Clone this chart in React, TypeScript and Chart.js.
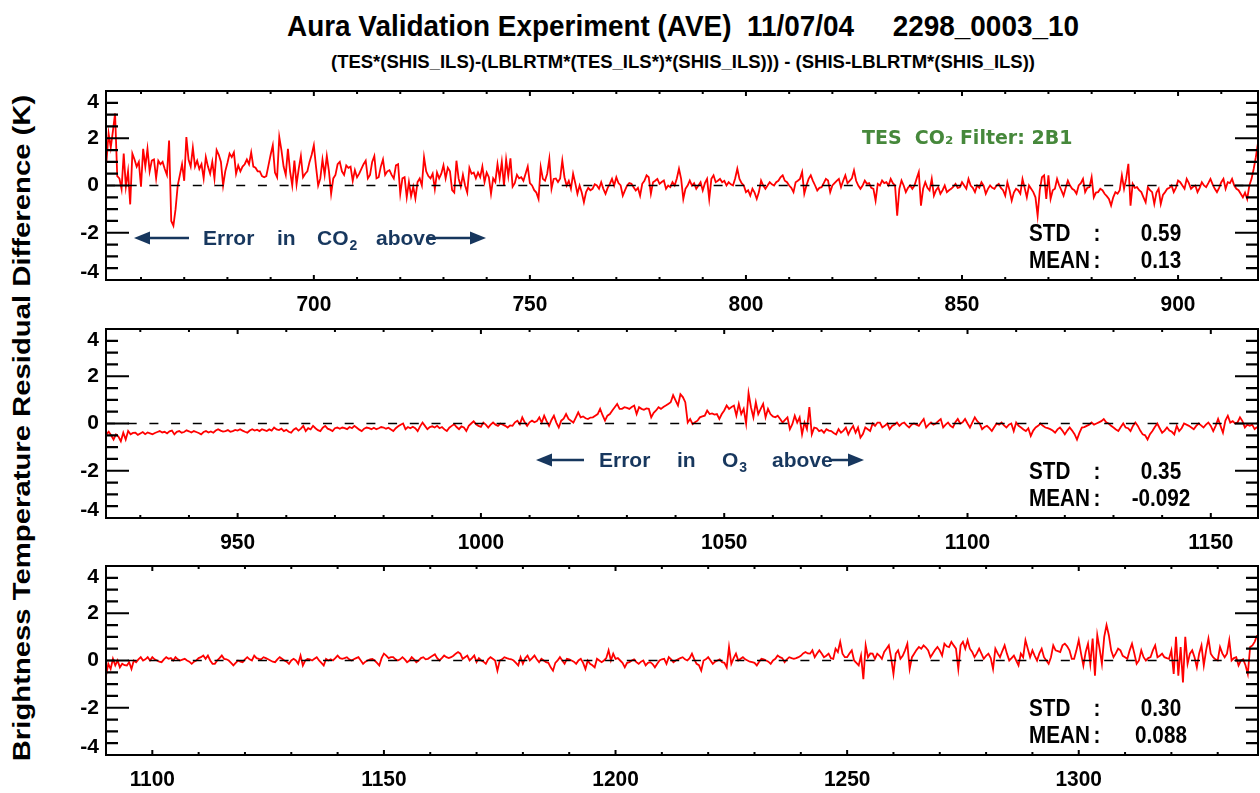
import React, { useEffect, useRef } from 'react';
import { Chart, registerables } from 'chart.js';

Chart.register(...registerables);

const SANS = '"Liberation Sans", Arial, Helvetica, sans-serif';
const NAVY = '#17375e';
const GREEN = '#46883b';

// Spectral sampling of the residual spectra (cm-1)
const STEP = 0.5;

// Panel 1: 652.0 - 918.5 cm-1
const start650 = 652.0;
const residual650: number[] = [
  1.0, 2.2, 1.6, 2.3, 3.05, 0.4, 0.3, -0.15, 1.35, -0.05, 0.6, -0.8, 1.35, 1.1, 0.8, 1.0, -0.05, 1.55, 0.8, 1.55,
  0.6, 1.05, 1.1, 0.3, 1.05, 0.9, 1.0, 0.7, 0.45, 1.9, -1.5, -1.7, -1.0, 0.0, 0.45, 0.9, 0.2, 2.05, 1.1, 0.8,
  1.6, 0.8, 1.05, 0.7, 0.9, 0.3, 1.2, 0.8, 0.5, 1.0, 0.3, 1.5, 1.3, 1.0, 0.0, 0.6, 0.95, 1.35, 1.2, 1.4,
  0.5, 0.85, 0.6, 0.8, 0.9, 1.1, 0.9, 1.4, 0.8, 0.75, 0.6, 0.6, 0.4, 0.35, 0.4, 0.85, 1.3, 1.7, 0.55, 0.35,
  2.05, 1.5, 0.8, 0.45, 1.55, 0.6, 0.0, 1.05, 0.05, 0.7, 1.25, 0.35, 0.5, 0.6, 1.0, 1.3, 1.7, 0.8, 0.0, 0.3,
  1.1, 0.45, 1.25, 0.6, -0.35, 0.3, 0.45, 0.9, 1.0, 0.6, 0.45, 0.85, 0.75, 0.8, 0.2, 0.65, 0.35, 0.5, 0.7, 0.9,
  1.05, 0.3, 0.45, 1.0, 1.25, 0.3, 0.35, 0.8, 1.1, 0.45, 0.6, 0.65, 0.45, 0.3, 0.85, 0.9, -0.35, 0.3, 0.35, -0.5,
  0.15, -0.45, -0.05, -0.55, 0.15, 0.3, 0.0, 1.2, 0.6, 0.4, 0.3, 0.5, -0.15, 0.55, 0.3, 0.5, 0.85, 0.3, 0.75, 0.6,
  -0.2, -0.3, 1.05, 0.3, -0.05, 0.45, 0.0, -0.3, 0.75, 0.5, 0.55, 0.3, 0.55, 0.35, 0.8, 0.15, 0.55, 0.35, -0.35, 0.3,
  0.15, 0.9, 0.3, 1.0, 0.0, 1.1, 0.4, 1.15, -0.05, 0.1, 0.45, 0.3, 0.35, 0.2, 0.5, 0.8, 0.1, 0.0, -0.2, -0.3,
  -0.57, 0.78, 0.28, 0.2, 0.5, 1.13, -0.14, 0.28, 0.3, 0.15, 0.3, 1.06, 0.35, 0.0, 0.2, -0.14, 0.5, 0.1, -0.35, 0.0,
  -0.3, -0.71, -0.28, -0.1, -0.2, -0.14, 0.05, 0.0, -0.14, 0.14, -0.14, -0.35, -0.1, 0.07, 0.28, 0.0, 0.35, 0.1, 0.0, -0.43,
  -0.21, 0.0, 0.1, 0.07, -0.07, -0.21, -0.1, -0.43, 0.07, 0.2, 0.43, 0.35, -0.35, 0.14, 0.2, 0.28, 0.07, 0.15, 0.21, -0.14,
  0.0, -0.07, 0.14, 0.0, 0.3, 0.71, 0.28, -0.57, -0.14, 0.0, 0.21, 0.0, 0.1, -0.14, 0.0, 0.14, -0.21, 0.1, 0.28, -0.57,
  0.28, 0.43, 0.14, 0.2, 0.28, 0.14, 0.2, 0.0, 0.14, 0.05, 0.0, 0.3, 0.71, 0.28, 0.1, 0.0, -0.28, -0.2, -0.43, -0.14,
  -0.3, -0.57, -0.28, 0.21, 0.0, -0.14, 0.0, 0.14, 0.05, 0.0, 0.14, 0.2, 0.35, 0.43, 0.2, 0.14, 0.0, -0.1, -0.28, 0.14,
  0.2, 0.28, 0.57, -0.35, 0.0, 0.28, 0.43, 0.2, 0.0, -0.21, -0.1, -0.07, 0.1, 0.28, 0.21, -0.28, 0.0, 0.1, 0.2, 0.28,
  -0.07, 0.2, 0.43, 0.1, 0.2, 0.3, 0.64, 0.2, 0.0, -0.14, 0.0, 0.21, 0.07, 0.1, -0.1, -0.14, -0.64, 0.07, 0.0, 0.21,
  0.1, 0.14, 0.0, 0.28, 0.1, 0.0, -1.28, -0.14, 0.21, 0.0, -0.28, -0.1, 0.0, -0.14, 0.0, 0.3, 0.57, -0.85, -0.14, 0.14,
  -0.1, -0.21, 0.28, -0.43, -0.2, -0.07, -0.35, -0.2, 0.0, -0.28, -0.2, -0.14, -0.05, 0.07, -0.1, -0.07, 0.14, 0.0, -0.14, 0.28,
  0.0, -0.1, -0.28, 0.0, -0.1, 0.14, 0.0, -0.35, -0.14, 0.0, -0.1, -0.14, 0.0, 0.07, -0.1, -0.2, -0.43, 0.14, -0.2, -0.64,
  -0.3, -0.14, -0.2, -0.35, 0.28, -0.1, -0.5, 0.0, -0.14, -0.28, -0.5, -1.28, -0.2, 0.35, 0.43, -0.57, 0.43, -0.57, -0.2, -0.14,
  0.28, 0.0, -0.21, -0.43, -0.1, 0.21, 0.0, -0.14, -0.2, -0.35, 0.0, 0.1, 0.28, -0.28, -0.1, -0.07, 0.35, -0.5, -0.3, -0.28,
  -0.14, -0.2, -0.35, -0.45, -0.57, -0.85, -0.5, -0.28, -0.35, -0.2, 0.43, -0.14, 0.3, 0.92, -0.85, 0.07, -0.1, -0.07, -0.2, -0.28,
  -0.5, -0.71, -0.07, -0.2, -0.28, -0.78, -0.3, -0.14, -0.78, -0.4, -0.28, -0.14, -0.1, 0.0, -0.28, -0.1, 0.21, 0.14, 0.0, -0.14,
  0.28, 0.1, -0.14, -0.05, 0.0, -0.28, -0.1, 0.14, 0.0, -0.07, 0.1, 0.28, 0.05, -0.14, -0.28, -0.1, 0.14, 0.28, -0.14, 0.14,
  0.1, 0.28, 0.0, -0.14, -0.2, -0.35, -0.5, -0.3, -0.57, 0.0, 0.28, 0.7, 1.2, 1.8,
];

// Panel 2: 923.0 - 1159.5 cm-1
const start923 = 923.0;
const residual923: number[] = [
  -0.46, -0.35, -0.5, -0.68, -0.46, -0.55, -0.75, -0.39, -0.68, -0.32, -0.46, -0.4, -0.39, -0.48, -0.42, -0.36, -0.45, -0.38, -0.42, -0.46,
  -0.4, -0.36, -0.32, -0.38, -0.35, -0.42, -0.33, -0.3, -0.46, -0.35, -0.32, -0.39, -0.36, -0.29, -0.33, -0.38, -0.32, -0.36, -0.4, -0.46,
  -0.36, -0.32, -0.38, -0.34, -0.39, -0.3, -0.24, -0.3, -0.34, -0.32, -0.28, -0.35, -0.32, -0.27, -0.3, -0.24, -0.3, -0.35, -0.39, -0.3,
  -0.24, -0.3, -0.26, -0.32, -0.24, -0.28, -0.32, -0.25, -0.3, -0.17, -0.25, -0.28, -0.22, -0.32, -0.27, -0.35, -0.39, -0.26, -0.2, -0.3,
  -0.22, -0.1, -0.32, -0.2, -0.25, -0.1, -0.2, -0.28, -0.32, -0.18, -0.1, -0.22, -0.26, -0.32, -0.2, -0.17, -0.22, -0.17, -0.2, -0.24,
  -0.15, -0.2, -0.1, -0.18, -0.26, -0.32, -0.22, -0.17, -0.2, -0.24, -0.18, -0.24, -0.2, -0.15, -0.17, -0.22, -0.18, -0.25, -0.32, -0.2,
  -0.12, -0.05, 0.0, -0.24, -0.15, -0.2, -0.14, -0.2, -0.32, -0.12, 0.04, -0.1, -0.24, -0.15, -0.12, -0.17, -0.1, -0.2, -0.15, -0.25,
  -0.32, -0.18, -0.1, -0.03, -0.15, -0.24, -0.12, -0.17, -0.32, -0.1, 0.0, 0.09, -0.03, -0.1, -0.14, 0.04, -0.05, -0.17, -0.05, 0.04,
  -0.05, -0.1, 0.0, -0.05, -0.1, -0.17, -0.08, -0.1, 0.05, 0.12, -0.03, 0.26, 0.05, -0.1, 0.05, 0.12, 0.05, 0.1, 0.26, 0.04,
  0.33, 0.1, -0.1, 0.15, 0.33, 0.04, -0.17, 0.12, 0.2, 0.4, 0.19, 0.12, 0.04, 0.25, 0.47, 0.26, 0.3, 0.22, 0.19, 0.25,
  0.26, 0.33, 0.4, 0.62, 0.35, 0.12, 0.33, 0.4, 0.55, 0.69, 0.83, 0.62, 0.62, 0.69, 0.66, 0.62, 0.7, 0.76, 0.4, 0.69,
  0.62, 0.58, 0.64, 0.62, 0.26, 0.45, 0.55, 0.69, 0.62, 0.7, 0.76, 0.83, 0.9, 1.2, 0.98, 0.76, 1.24, 1.12, 0.9, 0.04,
  0.19, -0.03, 0.05, 0.12, 0.26, 0.3, 0.33, 0.55, 0.4, 0.43, 0.38, 0.4, 0.19, 0.4, 0.55, 0.76, 0.62, 0.7, 0.76, 0.33,
  0.83, 0.4, 0.62, 0.0, 1.29, 0.69, 0.26, 0.9, 0.4, 0.62, 0.83, 0.26, 0.62, 0.4, 0.3, 0.26, 0.33, 0.19, 0.04, 0.15,
  0.26, -0.24, -0.03, 0.33, 0.04, 0.26, -0.46, 0.04, -0.24, 0.69, -0.46, -0.17, -0.2, -0.32, -0.28, -0.39, -0.24, -0.3, -0.32, -0.4,
  -0.46, -0.24, -0.39, -0.3, -0.17, -0.46, -0.25, -0.1, -0.39, -0.17, -0.6, -0.45, -0.17, -0.24, -0.32, 0.0, -0.1, 0.04, 0.04, -0.17,
  -0.1, 0.0, -0.24, -0.1, -0.05, 0.04, -0.1, 0.0, 0.04, -0.08, -0.17, -0.05, 0.0, -0.05, -0.1, 0.05, 0.19, -0.17, -0.05, 0.04,
  -0.05, 0.0, 0.1, 0.19, -0.17, -0.05, 0.04, -0.1, -0.17, 0.05, 0.19, 0.0, 0.05, 0.19, 0.0, -0.17, 0.05, 0.26, 0.1, 0.0,
  -0.24, -0.15, -0.1, -0.2, -0.32, -0.15, 0.0, -0.05, 0.04, -0.08, -0.17, -0.05, 0.0, -0.32, 0.04, -0.1, -0.17, -0.25, -0.32, -0.2,
  -0.53, -0.3, -0.17, -0.1, 0.0, -0.1, -0.17, -0.2, -0.24, -0.3, -0.39, -0.25, -0.17, -0.3, -0.46, -0.3, -0.17, -0.3, -0.45, -0.68,
  -0.4, -0.17, -0.15, -0.1, -0.05, 0.04, -0.05, 0.0, 0.05, 0.1, 0.19, 0.05, 0.0, -0.1, -0.17, -0.25, -0.32, -0.15, 0.0, -0.17,
  -0.2, -0.32, -0.1, 0.04, -0.1, -0.3, -0.46, -0.5, -0.68, -0.45, -0.32, -0.15, 0.0, -0.2, -0.39, -0.3, -0.17, -0.3, -0.35, -0.46,
  -0.1, -0.32, -0.2, 0.0, -0.05, -0.1, -0.17, -0.24, -0.1, 0.0, -0.08, -0.17, -0.05, 0.04, -0.1, -0.32, -0.1, 0.19, -0.1, -0.39,
  0.12, 0.33, 0.04, 0.1, 0.0, 0.05, 0.26, 0.1, -0.17, -0.05, -0.1, -0.05, -0.24, -0.15,
];

// Panel 3: 1090.0 - 1338.5 cm-1
const start1090 = 1090.0;
const residual1090: number[] = [
  -0.64, -0.14, -0.36, 0.07, -0.21, 0.0, -0.29, -0.14, -0.2, -0.21, -0.07, -0.36, 0.0, -0.07, 0.05, 0.14, 0.0, 0.05, 0.14, 0.0,
  0.14, 0.05, 0.0, -0.05, -0.07, 0.05, 0.14, 0.07, 0.1, 0.0, 0.14, 0.05, 0.0, 0.04, 0.07, 0.0, -0.05, -0.14, -0.05, 0.0,
  0.1, 0.14, 0.21, 0.07, 0.21, 0.0, -0.14, -0.14, 0.0, 0.1, 0.21, 0.07, 0.05, 0.0, -0.1, -0.21, -0.1, 0.0, -0.05, -0.07,
  0.05, 0.14, 0.05, 0.0, 0.21, 0.1, 0.07, 0.05, 0.14, 0.1, 0.05, 0.0, -0.05, -0.07, 0.05, 0.14, 0.07, 0.0, -0.05, -0.14,
  0.0, 0.07, 0.0, -0.14, 0.21, -0.21, 0.0, 0.07, 0.05, 0.0, 0.07, 0.14, 0.0, -0.1, -0.21, 0.07, 0.0, 0.05, 0.0, 0.1,
  0.21, 0.1, 0.07, 0.1, 0.14, 0.05, 0.0, 0.05, 0.1, 0.14, 0.0, -0.14, -0.05, 0.0, 0.05, 0.07, 0.0, -0.1, -0.21, 0.1,
  0.29, 0.21, 0.1, 0.14, 0.14, 0.05, 0.0, 0.05, 0.14, 0.05, -0.07, 0.0, 0.14, 0.05, -0.07, 0.0, 0.1, 0.14, 0.05, 0.07,
  0.14, 0.2, 0.26, 0.1, 0.0, 0.1, 0.21, 0.14, 0.1, 0.14, 0.2, 0.29, 0.36, 0.29, 0.07, 0.14, 0.21, 0.0, 0.1, 0.21,
  -0.07, 0.1, 0.0, -0.05, -0.14, 0.05, 0.14, 0.07, 0.0, -0.43, 0.0, 0.05, 0.14, 0.1, 0.07, 0.05, 0.0, -0.1, -0.21, 0.14,
  -0.14, 0.1, 0.21, 0.0, 0.1, 0.21, 0.05, -0.07, 0.07, 0.0, -0.07, -0.1, -0.29, -0.43, -0.1, 0.0, 0.14, 0.0, -0.14, 0.07,
  0.05, 0.0, -0.05, -0.14, 0.0, 0.07, -0.1, -0.36, 0.0, -0.14, -0.2, -0.29, 0.07, 0.0, -0.07, 0.0, 0.1, 0.43, 0.0, 0.29,
  0.07, 0.1, 0.0, -0.1, -0.29, -0.1, -0.07, 0.0, 0.05, -0.07, -0.14, -0.05, 0.0, -0.21, -0.1, -0.07, -0.15, -0.29, -0.14, 0.0,
  0.05, 0.07, -0.14, 0.14, 0.05, -0.07, 0.0, 0.05, 0.1, 0.14, 0.05, 0.0, 0.1, 0.29, 0.05, -0.14, -0.2, -0.43, 0.0, 0.05,
  0.14, 0.0, -0.14, -0.05, 0.0, 0.05, -0.07, -0.1, -0.29, 0.57, -0.14, 0.1, 0.29, 0.0, 0.07, 0.14, 0.05, 0.0, -0.05, -0.07,
  -0.1, -0.21, -0.05, 0.07, 0.05, 0.0, -0.05, -0.14, 0.0, 0.07, 0.21, 0.14, 0.1, -0.07, 0.05, 0.14, 0.1, 0.07, 0.1, 0.14,
  0.2, 0.3, 0.36, 0.3, 0.29, 0.43, 0.14, 0.3, 0.43, 0.3, 0.14, 0.2, 0.29, 0.1, 0.07, 0.5, 0.36, 0.79, 0.29, 0.14,
  0.14, 0.3, 0.43, 0.0, -0.1, -0.21, 0.21, -0.79, 0.64, 0.14, 0.3, 0.29, 0.07, 0.29, 0.2, 0.07, 0.36, 0.5, 0.64, 0.1,
  -0.57, 0.29, 0.43, 0.07, 0.2, 0.43, 0.71, -0.36, 0.14, 0.3, 0.45, 0.57, 0.5, 0.64, 0.55, 0.43, 0.14, 0.3, 0.45, 0.57,
  0.43, 0.21, 0.71, 0.6, 0.57, 0.79, 0.64, 0.5, -0.36, 0.64, 0.79, 0.5, 0.86, 0.5, 0.36, 0.14, 0.3, 0.5, 0.29, 0.07,
  0.2, 0.29, 0.1, -0.36, 0.5, 0.3, 0.14, 0.4, 0.64, 0.29, 0.0, 0.1, 0.21, 0.0, -0.21, 0.29, 0.14, 0.86, 0.5, 0.14,
  0.43, 0.2, 0.0, 0.3, 0.5, 0.14, 0.0, -0.14, 0.14, 0.64, 0.43, 0.4, 0.36, 0.64, 0.71, 0.6, 0.43, 0.07, 0.07, 0.43,
  0.86, 0.29, -0.21, 0.36, 0.71, -0.14, 0.93, -0.64, 1.07, 0.5, -0.14, 1.0, 1.5, 1.07, 0.43, 0.14, 0.3, 0.5, 0.43, 0.2,
  0.14, 0.07, 0.43, 0.71, 0.3, -0.14, 0.0, 0.43, 0.14, 0.0, 0.1, 0.14, 0.43, 0.64, 0.14, 0.2, 0.29, 0.14, 0.1, 0.07,
  0.43, -0.57, 1.0, -0.64, 0.57, -0.93, 1.0, -0.14, 0.29, 0.43, 0.14, -0.29, 0.3, 0.64, -0.21, 0.43, 0.93, 0.29, 0.14, 0.05,
  0.0, 0.57, 0.3, 0.14, 0.29, 0.86, 0.0, 0.1, 0.14, -0.21, 0.0, 0.05, -0.2, -0.57, 0.57, 0.64, 0.8, 1.07,
];

// Axis labels
const xLabels650 = [700, 750, 800, 850, 900];
const xLabels923 = [950, 1000, 1050, 1100, 1150];
const xLabels1090 = [1100, 1150, 1200, 1250, 1300];
const yLabels = [4, 2, 0, -2, -4];

// Statistics printed in each panel
const stdValues = ['0.59', '0.35', '0.30'];
const meanValues = ['0.13', '-0.092', '0.088'];

type Word = { text: string; x: number; sub?: string };
type ErrorNote = {
  y: number;
  leftTip: number;
  leftEnd: number;
  rightStart: number;
  rightTip: number;
  words: Word[];
};

type PanelDef = {
  top: number;
  height: number;
  padTop: number;
  xMin: number;
  xMax: number;
  start: number;
  values: number[];
  xLabels: number[];
  std: string;
  mean: string;
  note?: ErrorNote;
  filterLabel?: boolean;
};

const PLOT_LEFT = 106;
const PLOT_RIGHT = 1258;
const PLOT_H = 189;

const panels: PanelDef[] = [
  {
    top: 60, height: 265, padTop: 31,
    xMin: 651.9, xMax: 918.5, start: start650, values: residual650,
    xLabels: xLabels650, std: stdValues[0], mean: meanValues[0],
    filterLabel: true,
    note: {
      y: 238, leftTip: 134, leftEnd: 189, rightStart: 427, rightTip: 486,
      words: [
        { text: 'Error', x: 203 },
        { text: 'in', x: 277 },
        { text: 'CO', x: 317, sub: '2' },
        { text: 'above', x: 376 },
      ],
    },
  },
  {
    top: 325, height: 238, padTop: 4,
    xMin: 922.95, xMax: 1159.7, start: start923, values: residual923,
    xLabels: xLabels923, std: stdValues[1], mean: meanValues[1],
    note: {
      y: 460, leftTip: 536, leftEnd: 584, rightStart: 830, rightTip: 864,
      words: [
        { text: 'Error', x: 599 },
        { text: 'in', x: 677 },
        { text: 'O', x: 722, sub: '3' },
        { text: 'above', x: 772 },
      ],
    },
  },
  {
    top: 563, height: 230, padTop: 3,
    xMin: 1090.0, xMax: 1338.7, start: start1090, values: residual1090,
    xLabels: xLabels1090, std: stdValues[2], mean: meanValues[2],
  },
];

function condensedText(
  ctx: CanvasRenderingContext2D,
  text: string,
  x: number,
  y: number,
  align: CanvasTextAlign,
  sx: number,
) {
  ctx.save();
  ctx.translate(x, y);
  ctx.scale(sx, 1);
  ctx.textAlign = align;
  ctx.fillText(text, 0, 0);
  ctx.restore();
}

function drawArrowHead(ctx: CanvasRenderingContext2D, tip: number, y: number, dir: number) {
  const len = 16;
  const half = 6.5;
  ctx.beginPath();
  ctx.moveTo(tip, y);
  ctx.lineTo(tip - dir * len, y - half);
  ctx.lineTo(tip - dir * len, y + half);
  ctx.closePath();
  ctx.fill();
}

function makeFramePlugin(def: PanelDef) {
  return {
    id: 'idlFrame',
    afterDatasetsDraw(chart: Chart) {
      const { ctx, chartArea: a } = chart;
      const xs = chart.scales.x;
      const ys = chart.scales.y;
      const off = def.top;
      ctx.save();

      // plot box
      ctx.strokeStyle = '#000';
      ctx.lineWidth = 2;
      ctx.strokeRect(a.left, a.top, a.right - a.left, a.bottom - a.top);

      // y ticks on both sides
      ctx.lineWidth = 2.2;
      ctx.beginPath();
      for (let k = -8; k <= 8; k++) {
        const py = ys.getPixelForValue(k / 2);
        const len = k % 4 === 0 ? 23 : 12;
        ctx.moveTo(a.left, py);
        ctx.lineTo(a.left + len, py);
        ctx.moveTo(a.right, py);
        ctx.lineTo(a.right - len, py);
      }
      ctx.stroke();

      // x ticks on top and bottom
      ctx.lineWidth = 2;
      ctx.beginPath();
      for (let v = Math.ceil(def.xMin / 10) * 10; v <= def.xMax; v += 10) {
        const px = xs.getPixelForValue(v);
        const len = v % 50 === 0 ? 5 : 3;
        ctx.moveTo(px, a.top);
        ctx.lineTo(px, a.top + len);
        ctx.moveTo(px, a.bottom);
        ctx.lineTo(px, a.bottom - len);
      }
      ctx.stroke();

      // tick labels
      ctx.fillStyle = '#000';
      ctx.textBaseline = 'middle';
      ctx.font = `bold 22px ${SANS}`;
      for (const v of def.xLabels) {
        condensedText(ctx, String(v), xs.getPixelForValue(v), a.bottom + 25, 'center', 0.95);
      }
      ctx.font = `bold 21px ${SANS}`;
      for (const v of yLabels) {
        let py = ys.getPixelForValue(v);
        if (v === 4) py += 11.5;
        if (v === -4) py -= 8;
        ctx.textAlign = 'right';
        ctx.fillText(String(v), a.left - 7, py);
      }

      // statistics
      ctx.font = `bold 23px ${SANS}`;
      const r1 = a.bottom - 45;
      const r2 = a.bottom - 18;
      condensedText(ctx, 'STD', 1029, r1, 'left', 0.9);
      condensedText(ctx, ':', 1097, r1, 'center', 0.9);
      condensedText(ctx, def.std, 1161, r1, 'center', 0.9);
      condensedText(ctx, 'MEAN', 1029, r2, 'left', 0.9);
      condensedText(ctx, ':', 1097, r2, 'center', 0.9);
      condensedText(ctx, def.mean, 1161, r2, 'center', 0.9);

      // filter label
      if (def.filterLabel) {
        ctx.fillStyle = GREEN;
        ctx.textBaseline = 'alphabetic';
        ctx.textAlign = 'left';
        ctx.font = `bold 19px "DejaVu Sans", Verdana, sans-serif`;
        ctx.fillText('TES  CO\u2082 Filter: 2B1', 862, 144 - off);
      }

      // error annotation with arrows
      const n = def.note;
      if (n) {
        const y = n.y - off;
        ctx.fillStyle = NAVY;
        ctx.strokeStyle = NAVY;
        ctx.lineWidth = 2.5;
        ctx.beginPath();
        ctx.moveTo(n.leftTip + 14, y);
        ctx.lineTo(n.leftEnd, y);
        ctx.moveTo(n.rightStart, y);
        ctx.lineTo(n.rightTip - 14, y);
        ctx.stroke();
        drawArrowHead(ctx, n.leftTip, y, -1);
        drawArrowHead(ctx, n.rightTip, y, 1);
        ctx.textBaseline = 'middle';
        ctx.textAlign = 'left';
        for (const w of n.words) {
          ctx.font = `bold 21px ${SANS}`;
          ctx.fillText(w.text, w.x, y + 1);
          if (w.sub) {
            const wd = ctx.measureText(w.text).width;
            ctx.font = `bold 14px ${SANS}`;
            ctx.fillText(w.sub, w.x + wd + 1, y + 8);
          }
        }
      }

      ctx.restore();
    },
  };
}

function Panel({ def }: { def: PanelDef }) {
  const ref = useRef<HTMLCanvasElement>(null);

  useEffect(() => {
    const canvas = ref.current;
    if (!canvas) return;
    const points = def.values.map((v, i) => ({ x: def.start + i * STEP, y: v }));
    const padBottom = def.height - def.padTop - PLOT_H;
    const chart = new Chart(canvas, {
      type: 'line',
      data: {
        datasets: [
          {
            data: points,
            borderColor: '#ff0000',
            borderWidth: 1.8,
            pointRadius: 0,
            tension: 0,
            order: 1,
          },
          {
            data: [
              { x: def.xMin, y: 0 },
              { x: def.xMax, y: 0 },
            ],
            borderColor: '#000000',
            borderWidth: 1.3,
            borderDash: [9, 12.7],
            pointRadius: 0,
            tension: 0,
            order: 0,
          },
        ],
      },
      options: {
        animation: false,
        responsive: false,
        maintainAspectRatio: false,
        events: [],
        layout: {
          padding: {
            left: PLOT_LEFT,
            right: 1260 - PLOT_RIGHT,
            top: def.padTop,
            bottom: padBottom,
          },
        },
        scales: {
          x: { type: 'linear', min: def.xMin, max: def.xMax, display: false },
          y: { type: 'linear', min: -4, max: 4, display: false },
        },
        plugins: {
          legend: { display: false },
          tooltip: { enabled: false },
          title: { display: false },
        },
      },
      plugins: [makeFramePlugin(def)],
    });
    return () => chart.destroy();
  }, [def]);

  return (
    <canvas
      ref={ref}
      width={1260}
      height={def.height}
      style={{ position: 'absolute', left: 0, top: def.top, width: 1260, height: def.height }}
    />
  );
}

export default function App() {
  return (
    <div
      style={{
        position: 'absolute',
        left: 0,
        top: 0,
        width: 1260,
        height: 793,
        background: '#ffffff',
        overflow: 'hidden',
        color: '#000',
      }}
    >
      <div
        style={{
          position: 'absolute',
          left: 683,
          top: 11,
          transform: 'translateX(-50%) scaleX(0.93)',
          font: `bold 30px/30px ${SANS}`,
          whiteSpace: 'pre',
        }}
      >
        {'Aura Validation Experiment (AVE)  11/07/04     2298_0003_10'}
      </div>
      <div
        style={{
          position: 'absolute',
          left: 683,
          top: 52.6,
          transform: 'translateX(-50%)',
          font: `bold 18.5px/18.5px ${SANS}`,
          whiteSpace: 'pre',
        }}
      >
        {'(TES*(SHIS_ILS)-(LBLRTM*(TES_ILS*)*(SHIS_ILS))) - (SHIS-LBLRTM*(SHIS_ILS))'}
      </div>
      <div style={{ position: 'absolute', left: 22, top: 428, width: 0, height: 0 }}>
        <div
          style={{
            position: 'absolute',
            left: 0,
            top: 0,
            transform: 'translate(-50%, -50%) rotate(-90deg) scaleX(1.22)',
            whiteSpace: 'nowrap',
            font: `bold 24px/24px ${SANS}`,
          }}
        >
          Brightness Temperature Residual Difference (K)
        </div>
      </div>
      {panels.map((p, i) => (
        <Panel key={i} def={p} />
      ))}
    </div>
  );
}
